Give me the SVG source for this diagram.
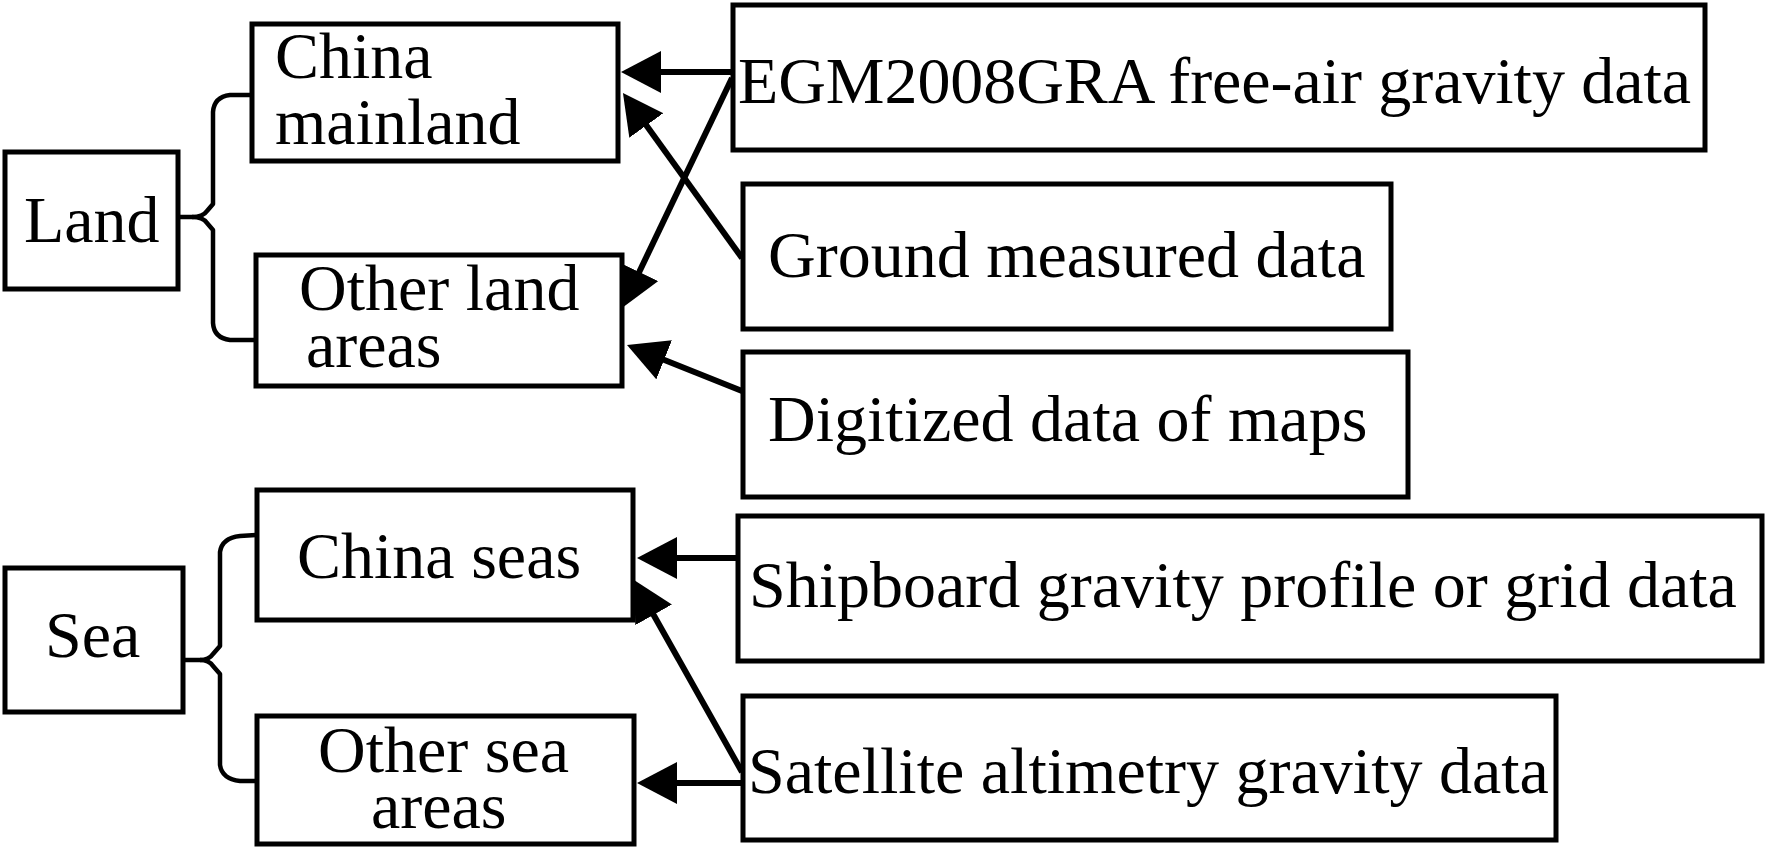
<svg xmlns="http://www.w3.org/2000/svg" width="1772" height="851" viewBox="0 0 1772 851">
<style>
.box{fill:#fff;stroke:#000;stroke-width:5}
.t{font-family:"Liberation Serif","Times New Roman",serif;font-size:66px;fill:#000}
.c{fill:none;stroke:#000;stroke-width:6}
.b{fill:none;stroke:#000;stroke-width:4.5;stroke-linejoin:round}
</style>
<defs>
<marker id="ah" markerUnits="userSpaceOnUse" markerWidth="42" markerHeight="44" refX="30" refY="21" orient="auto">
<path d="M0,0 L40,21 L0,42 z" fill="#000"/>
</marker>
</defs>
<rect width="1772" height="851" fill="#fff"/>
<g id="land"><rect class="box" x="5" y="152" width="173" height="137"/><text class="t" x="24" y="242">Land</text></g>
<g id="china-mainland"><rect class="box" x="252" y="24" width="366" height="137"/><text class="t" x="275" y="78">China</text><text class="t" x="275" y="144">mainland</text></g>
<g id="other-land"><rect class="box" x="256" y="255" width="366" height="131"/><text class="t" x="299" y="310">Other land</text><text class="t" x="306" y="367">areas</text></g>
<g id="sea"><rect class="box" x="5" y="568" width="178" height="144"/><text class="t" x="45" y="657">Sea</text></g>
<g id="china-seas"><rect class="box" x="257" y="490" width="376" height="130"/><text class="t" x="297" y="578">China seas</text></g>
<g id="other-sea"><rect class="box" x="257" y="716" width="377" height="128"/><text class="t" x="318" y="772">Other sea</text><text class="t" x="371" y="828">areas</text></g>
<g id="egm"><rect class="box" x="733" y="5" width="972" height="145"/><text class="t" x="738" y="103" textLength="953" lengthAdjust="spacing">EGM2008GRA free-air gravity data</text></g>
<g id="ground"><rect class="box" x="743" y="184" width="648" height="145"/><text class="t" x="768" y="277">Ground measured data</text></g>
<g id="digitized"><rect class="box" x="743" y="352" width="665" height="145"/><text class="t" x="768" y="441">Digitized data of maps</text></g>
<g id="shipboard"><rect class="box" x="738" y="516" width="1024" height="145"/><text class="t" x="749" y="607">Shipboard gravity profile or grid data</text></g>
<g id="satellite"><rect class="box" x="743" y="696" width="813" height="144"/><text class="t" x="748" y="793">Satellite altimetry gravity data</text></g>
<g id="connectors">
<path class="b" d="M178,217 L192,217 Q203,217 207,211 L213,204 L213,112 Q214,97 230,95 L252,95"/>
<path class="b" d="M192,217 Q203,217 207,223 L213,230 L213,323 Q214,338 230,340 L256,340"/>
<path class="b" d="M185,660 L200,660 Q209,660 213,654 L220,646 L220,552 Q222,538 240,536 L257,535"/>
<path class="b" d="M200,660 Q209,660 213,666 L220,674 L220,765 Q222,779 240,781 L257,781"/>
<line class="c" x1="733" y1="72" x2="631" y2="72" marker-end="url(#ah)"/>
<line class="c" x1="732" y1="78" x2="626.3" y2="299" marker-end="url(#ah)"/>
<line class="c" x1="742" y1="258" x2="628.8" y2="101.1" marker-end="url(#ah)"/>
<line class="c" x1="742" y1="391" x2="636.3" y2="348.7" marker-end="url(#ah)"/>
<line class="c" x1="738" y1="558" x2="647" y2="558" marker-end="url(#ah)"/>
<line class="c" x1="742" y1="772" x2="638.9" y2="588.7" marker-end="url(#ah)"/>
<line class="c" x1="743" y1="783" x2="647" y2="783" marker-end="url(#ah)"/>
</g>
</svg>
